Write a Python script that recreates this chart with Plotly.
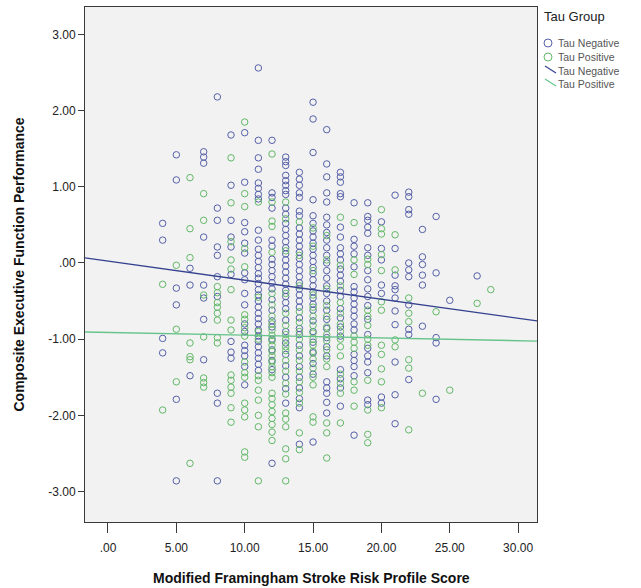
import plotly.graph_objects as go

# ---------------- data ----------------
GROUPS = ["Tau Negative", "Tau Positive"]

NEG_SCORE = [4, 5, 6, 7, 8, 9, 10, 11, 12, 13, 14, 15, 16, 17, 18, 19, 20, 21, 22, 23, 24, 25, 27]
NEG_PERF = [
    [0.52, 0.30, -0.99, -1.18],
    [1.42, 1.09, -0.33, -0.55, -1.79, -2.86],
    [-0.07, -0.29, -1.48],
    [1.46, 1.39, 1.31, 0.34, -0.29, -0.46, -0.74, -1.27],
    [2.18, 0.72, 0.56, 0.21, 0.10, -0.18, -0.44, -1.71, -1.84, -2.86],
    [1.68, 1.02, 0.56, 0.34, 0.21, -0.15, -1.03, -1.17, -1.25],
    [1.71, 1.06, 0.53, 0.41, 0.26, 0.13, -0.13, -0.22, -0.40, -0.55, -0.80, -0.90, -1.08, -1.15, -1.22, -1.36, -1.60],
    [2.56, 1.61, 1.38, 1.23, 1.05, 0.98, 0.90, 0.84, 0.43, 0.30, 0.18, 0.10, 0.02, -0.06, -0.14, -0.20, -0.27,
     -0.35, -0.42, -0.50, -0.58, -0.66, -0.73, -0.80, -0.88, -0.96, -1.03, -1.10, -1.18, -1.25, -1.33, -1.41],
    [1.61, 0.92, 0.86, 0.72, 0.30, 0.22, 0.05, -0.02, -0.10, -0.18, -0.26, -0.34, -0.48, -0.62, -0.76, -0.84,
     -1.00, -1.14, -1.28, -1.40, -2.63],
    [1.39, 1.33, 1.28, 1.15, 1.08, 1.02, 0.95, 0.90, 0.72, 0.64, 0.52, 0.44, 0.36, 0.28, 0.20, 0.12, 0.04, -0.04,
     -0.12, -0.20, -0.28, -0.36, -0.44, -0.52, -0.60, -0.75, -0.90, -1.05, -1.20, -1.35, -1.50, -1.65, -1.84],
    [1.19, 1.10, 1.02, 0.92, 0.86, 0.68, 0.62, 0.46, 0.38, 0.30, 0.22, 0.14, 0.06, -0.02, -0.10, -0.18, -0.26,
     -0.34, -0.42, -0.50, -0.58, -0.72, -0.86, -0.94, -1.08, -1.22, -1.36, -1.50, -1.64, -1.78, -1.90, -2.38],
    [2.11, 1.89, 1.45, 0.83, 0.62, 0.52, 0.42, 0.34, 0.26, 0.18, 0.10, 0.02, -0.06, -0.14, -0.22, -0.30, -0.38,
     -0.46, -0.54, -0.62, -0.76, -0.90, -1.04, -1.18, -1.32, -1.46, -2.35],
    [1.75, 1.30, 1.13, 0.92, 0.80, 0.60, 0.50, 0.40, 0.30, 0.20, 0.10, 0.00, -0.10, -0.20, -0.30, -0.40, -0.50,
     -0.62, -0.74, -0.86, -0.98, -1.10, -1.22, -1.56, -1.64, -1.71, -1.83, -1.97],
    [1.19, 1.13, 1.06, 0.91, 0.87, 0.47, 0.34, 0.20, 0.12, 0.04, -0.08, -0.16, -0.24, -0.36, -0.44, -0.60, -0.72,
     -0.84, -0.96, -1.40, -1.52, -1.64, -1.88],
    [0.79, 0.31, 0.22, 0.12, -0.05, -0.31, -0.38, -0.46, -0.54, -0.62, -0.70, -0.80, -0.88, -1.20, -1.28, -1.36,
     -1.48, -2.26],
    [0.79, 0.61, 0.56, 0.47, 0.39, 0.20, 0.10, -0.10, -0.22, -0.34, -0.44, -0.56, -0.74, -0.94, -1.12, -1.22,
     -1.30, -1.44, -1.80, -1.86],
    [0.54, 0.19, 0.04, -0.29, -0.40, -1.76, -1.84],
    [0.89, 0.19, -0.16, -0.30, -0.35, -0.46, -0.63, -0.81, -1.30, -1.73, -2.11],
    [0.93, 0.87, 0.70, 0.64, 0.00, -0.09, -0.18, -0.55, -0.87, -0.94, -1.53],
    [0.44, 0.08, -0.02, -0.16, -0.29, -0.83],
    [0.61, -0.13, -0.98, -1.05, -1.79],
    [-0.49],
    [-0.17],
]

POS_SCORE = [4, 5, 6, 7, 8, 9, 10, 11, 12, 13, 14, 15, 16, 17, 18, 19, 20, 21, 22, 23, 24, 25, 27, 28]
POS_PERF = [
    [-0.28, -1.93],
    [-0.03, -0.87, -1.56],
    [1.12, 0.45, 0.07, -1.05, -1.23, -1.27, -2.63],
    [0.91, 0.56, -0.42, -0.97, -1.51, -1.57, -1.63],
    [-0.31, -0.39, -0.52, -0.58, -0.66, -0.75, -0.98, -1.05],
    [1.38, 0.79, 0.28, 0.04, -0.08, -0.35, -0.75, -0.88, -1.47, -1.54, -1.63, -1.71, -1.90, -2.09],
    [1.85, 0.91, 0.74, 0.19, -0.05, -0.68, -0.74, -0.85, -0.96, -1.30, -1.44, -1.50, -1.84, -1.93, -2.02,
     -2.48, -2.55],
    [0.80, -0.45, -0.90, -1.00, -1.48, -1.54, -1.67, -1.80, -2.00, -2.15, -2.86],
    [1.43, 0.80, 0.55, 0.48, 0.14, -0.40, -0.55, -0.70, -0.80, -0.88, -0.95, -1.02, -1.08, -1.16, -1.22, -1.30,
     -1.36, -1.44, -1.50, -1.71, -1.78, -1.86, -1.95, -2.04, -2.12, -2.22, -2.33],
    [0.80, 0.58, 0.16, -0.40, -0.66, -0.82, -0.94, -1.00, -1.10, -1.15, -1.28, -1.42, -1.58, -1.72, -1.97, -2.05,
     -2.15, -2.44, -2.57, -2.86],
    [0.54, 0.10, -0.30, -0.64, -0.78, -0.90, -1.00, -1.14, -1.28, -1.42, -1.56, -1.70, -1.84, -2.23, -2.45],
    [0.46, 0.22, -0.10, -0.42, -0.58, -0.70, -0.82, -0.92, -1.00, -1.08, -1.16, -1.26, -1.38, -1.50, -1.60,
     -2.02, -2.09],
    [0.36, 0.04, -0.34, -0.56, -0.70, -0.84, -0.94, -1.02, -1.14, -1.26, -1.36, -2.10, -2.23, -2.56],
    [0.60, -0.03, -0.30, -0.52, -0.66, -0.80, -0.90, -1.00, -1.10, -1.22, -1.46, -1.58, -1.71, -2.10],
    [0.53, 0.04, -0.15, -0.96, -1.04, -1.12, -1.56, -1.67, -1.88],
    [0.05, -0.02, -0.62, -0.70, -0.82, -1.00, -1.08, -1.54, -1.93, -2.25, -2.36],
    [0.70, 0.45, 0.38, 0.11, -0.10, -0.51, -0.62, -1.08, -1.20, -1.39, -1.56, -1.90],
    [0.37, -0.09, -1.01, -1.10],
    [-0.46, -0.66, -0.77, -1.27, -1.38, -2.19],
    [-1.71],
    [-0.64],
    [-1.67],
    [-0.53],
    [-0.35],
]

# linear fit lines (intercept, slope) per group
FIT_INTERCEPT = [0.024, -0.912]
FIT_SLOPE = [-0.025, -0.0036]

X_RANGE = [-1.68, 31.38]
Y_RANGE = [-3.40, 3.36]
X_TICKS = [0, 5, 10, 15, 20, 25, 30]
X_TICK_LABELS = [".00", "5.00", "10.00", "15.00", "20.00", "25.00", "30.00"]
Y_TICKS = [-3, -2, -1, 0, 1, 2, 3]
Y_TICK_LABELS = ["-3.00", "-2.00", "-1.00", ".00", "1.00", "2.00", "3.00"]

LEGEND_TITLE = "Tau Group"

# ---------------- figure ----------------
COLORS = ["#5560a8", "#62b868"]
LINE_COLORS = ["#34428f", "#66c48a"]
FONT = "Liberation Sans, Arial, sans-serif"

W, H = 641, 588
ML, MR, MT, MB = 85, 104, 7, 66
PW, PH = W - ML - MR, H - MT - MB


def px(x):
    return (x - ML) / PW


def py(y):
    return (H - MB - y) / PH


def expand(scores, perf):
    xs, ys = [], []
    for s, vals in zip(scores, perf):
        for v in vals:
            xs.append(s)
            ys.append(v)
    return xs, ys


fig = go.Figure()
for name, scores, perf, col in [
    (GROUPS[0], NEG_SCORE, NEG_PERF, COLORS[0]),
    (GROUPS[1], POS_SCORE, POS_PERF, COLORS[1]),
]:
    xs, ys = expand(scores, perf)
    fig.add_trace(go.Scatter(
        x=xs, y=ys, mode="markers", name=name, showlegend=False,
        marker=dict(symbol="circle-open", size=6.5, color=col, line=dict(width=1, color=col)),
    ))

for i, name in enumerate(GROUPS):
    xs = X_RANGE
    ys = [FIT_INTERCEPT[i] + FIT_SLOPE[i] * x for x in xs]
    fig.add_trace(go.Scatter(
        x=xs, y=ys, mode="lines", name=name, showlegend=False,
        line=dict(color=LINE_COLORS[i], width=1.3),
    ))

axis_common = dict(
    showgrid=False, zeroline=False, showline=True, mirror=True,
    linecolor="#3a3a3a", linewidth=1, ticks="outside", tickcolor="#3a3a3a",
    tickfont=dict(family=FONT, size=12, color="#222222"),
)

# hand-built legend (SPSS style, compact)
shapes = []
annotations = [
    dict(text=LEGEND_TITLE, xref="paper", yref="paper", x=px(542), y=py(17),
         xanchor="left", yanchor="middle", showarrow=False,
         font=dict(family=FONT, size=13, color="#222222")),
]
legend_rows = [43, 57, 71, 84]
for i, name in enumerate(GROUPS):
    cy = legend_rows[i]
    r = 4
    shapes.append(dict(type="circle", xref="paper", yref="paper",
                       x0=px(548 - r), x1=px(548 + r), y0=py(cy + r), y1=py(cy - r),
                       line=dict(color=COLORS[i], width=1), fillcolor="rgba(0,0,0,0)"))
    annotations.append(dict(text=name, xref="paper", yref="paper", x=px(556), y=py(cy),
                            xanchor="left", yanchor="middle", showarrow=False,
                            font=dict(family=FONT, size=10.5, color="#555555")))
for i, name in enumerate(GROUPS):
    cy = legend_rows[2 + i]
    shapes.append(dict(type="line", xref="paper", yref="paper",
                       x0=px(545), x1=px(556), y0=py(cy - 5), y1=py(cy + 2),
                       line=dict(color=LINE_COLORS[i], width=1.2)))
    annotations.append(dict(text=name, xref="paper", yref="paper", x=px(556), y=py(cy),
                            xanchor="left", yanchor="middle", showarrow=False,
                            font=dict(family=FONT, size=10.5, color="#555555")))

annotations += [
    dict(text="<b>Modified Framingham Stroke Risk Profile Score</b>", xref="paper", yref="paper",
         x=0.5, y=py(578), xanchor="center", yanchor="middle", showarrow=False,
         font=dict(family=FONT, size=14, color="#111111")),
    dict(text="<b>Composite Executive Function Performance</b>", xref="paper", yref="paper",
         x=px(18), y=0.5, xanchor="center", yanchor="middle", textangle=-90, showarrow=False,
         font=dict(family=FONT, size=14, color="#111111")),
]

fig.update_layout(
    width=W, height=H,
    margin=dict(l=ML, r=MR, t=MT, b=MB),
    paper_bgcolor="white", plot_bgcolor="#f2f2f2",
    font=dict(family=FONT),
    xaxis=dict(range=X_RANGE, tickvals=X_TICKS, ticktext=X_TICK_LABELS, ticklen=10,
               ticklabelstandoff=5, **axis_common),
    yaxis=dict(range=Y_RANGE, tickvals=Y_TICKS, ticktext=Y_TICK_LABELS, ticklen=6, **axis_common),
    showlegend=False,
    shapes=shapes,
    annotations=annotations,
)

fig.write_html("out.html")
